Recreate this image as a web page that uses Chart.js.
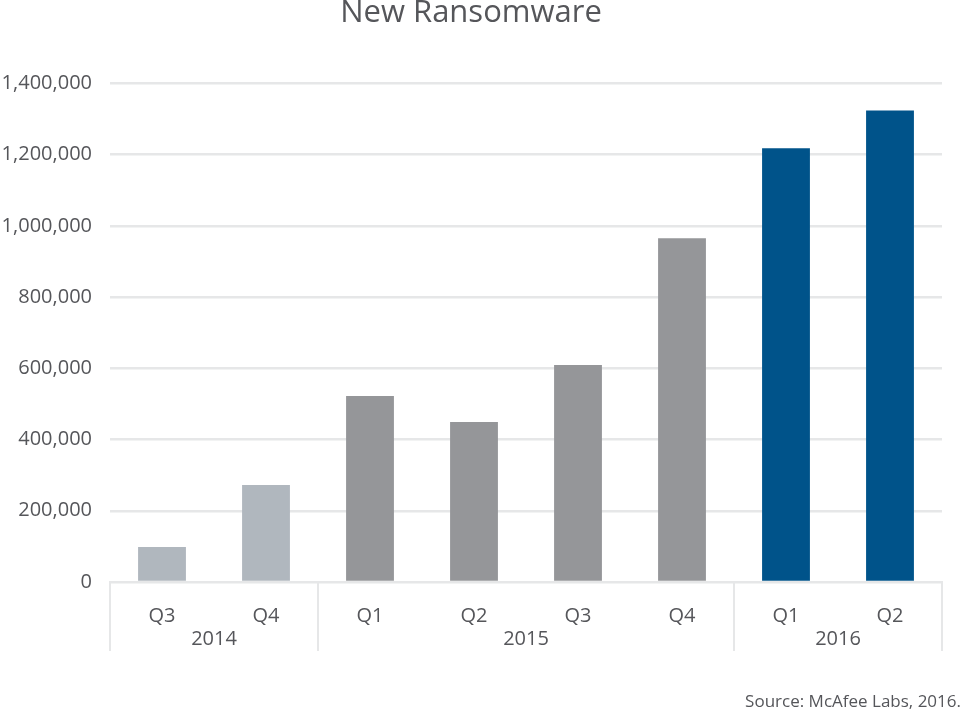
<!DOCTYPE html>
<html>
<head>
<meta charset="utf-8">
<script src="https://cdn.jsdelivr.net/npm/chart.js@4"></script>
<style>
  html, body { margin: 0; padding: 0; background: #ffffff; }
  #wrap { width: 963px; height: 711px; position: relative; }
</style>
</head>
<body>
<div id="wrap"><canvas id="c" width="963" height="711"></canvas></div>
<script>
// ---- data ----
const quarters = ['Q3', 'Q4', 'Q1', 'Q2', 'Q3', 'Q4', 'Q1', 'Q2'];
const yearGroups = ['2014', '2015', '2016'];
const groupSizes = [2, 4, 2];
const newRansomware = [98000, 272000, 522000, 449000, 609000, 965000, 1218000, 1324000];
const yTicks = [0, 200000, 400000, 600000, 800000, 1000000, 1200000, 1400000];
const titleText = 'New Ransomware';
const sourceText = 'Source: McAfee Labs, 2016.';

// ---- styles ----
const groupColors = ['#b0b7be', '#959699', '#00538a'];
const textColor = '#55565a';
const gridColor = '#e6e7e8';
const FONT = "'Open Sans', 'Noto Sans', sans-serif";

const barColors = [];
groupSizes.forEach((n, g) => { for (let i = 0; i < n; i++) barColors.push(groupColors[g]); });

const groupPlugin = {
  id: 'groupPlugin',
  afterDraw(chart) {
    const ctx = chart.ctx;
    const x = chart.scales.x;
    const area = chart.chartArea;
    const step = x.getPixelForValue(1) - x.getPixelForValue(0);
    ctx.save();
    // separators
    ctx.strokeStyle = gridColor;
    ctx.lineWidth = 2;
    let idx = 0;
    const bounds = [];
    groupSizes.forEach(n => { bounds.push(idx); idx += n; });
    bounds.push(idx);
    bounds.forEach(b => {
      const px = Math.round(x.getPixelForValue(b) - step / 2);
      ctx.beginPath();
      ctx.moveTo(px, area.bottom);
      ctx.lineTo(px, area.bottom + 69);
      ctx.stroke();
    });
    // year labels
    ctx.fillStyle = textColor;
    ctx.font = '20px ' + FONT;
    ctx.textAlign = 'center';
    ctx.textBaseline = 'middle';
    for (let g = 0; g < yearGroups.length; g++) {
      const a = x.getPixelForValue(bounds[g]) - step / 2;
      const b = x.getPixelForValue(bounds[g + 1]) - step / 2;
      ctx.fillText(yearGroups[g], (a + b) / 2, area.bottom + 57);
    }
    // source
    ctx.font = '17px ' + FONT;
    ctx.textAlign = 'right';
    ctx.textBaseline = 'alphabetic';
    ctx.fillText(sourceText, 961, 707);
    ctx.restore();
  }
};

new Chart(document.getElementById('c'), {
  type: 'bar',
  data: {
    labels: quarters,
    datasets: [{
      label: titleText,
      data: newRansomware,
      backgroundColor: barColors,
      borderWidth: 0,
      barPercentage: 0.92,
      categoryPercentage: 0.5
    }]
  },
  options: {
    responsive: false,
    animation: false,
    devicePixelRatio: 1,
    layout: { padding: { left: 0, right: 21, top: 0, bottom: 0 } },
    plugins: {
      legend: { display: false },
      tooltip: { enabled: false },
      title: {
        display: true,
        text: titleText,
        color: textColor,
        font: { family: FONT, size: 31, weight: 'normal', lineHeight: 0.85 },
        padding: { top: 0, bottom: 57 }
      }
    },
    scales: {
      x: {
        offset: true,
        grid: { display: false },
        border: { display: true, color: gridColor, width: 2 },
        ticks: { color: textColor, font: { family: FONT, size: 20 }, padding: 14, maxRotation: 0 },
        afterFit(scale) { scale.height = 129; }
      },
      y: {
        min: 0,
        max: 1400000,
        afterBuildTicks(scale) { scale.ticks = yTicks.map(v => ({ value: v })); },
        grid: { color: gridColor, lineWidth: 2.5, drawTicks: false },
        border: { display: false },
        ticks: {
          color: textColor,
          font: { family: FONT, size: 20 },
          padding: 18,
          callback: v => v.toLocaleString('en-US')
        },
        afterFit(scale) { scale.width = 110; }
      }
    }
  },
  plugins: [groupPlugin]
});
</script>
</body>
</html>
